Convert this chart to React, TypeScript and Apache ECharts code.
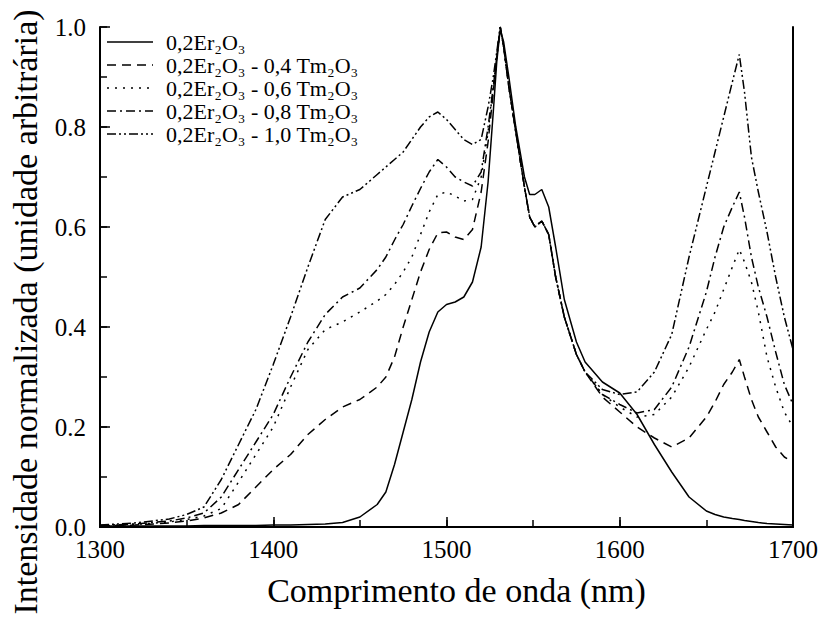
import React, { useEffect, useRef } from "react";
import * as echarts from "echarts";

const wavelengths = [
  1300, 1320, 1340, 1350, 1360, 1370, 1380, 1390, 1400, 1410, 1420, 1430, 1440, 1450, 1460, 1465,
  1470, 1475, 1480, 1485, 1490, 1495, 1500, 1505, 1510, 1515, 1520, 1524, 1527, 1529, 1531, 1533,
  1536, 1540, 1545, 1548, 1551, 1555, 1559, 1563, 1568, 1575, 1580, 1590, 1600, 1610, 1620, 1630,
  1640, 1650, 1655, 1660, 1665, 1669, 1672, 1676, 1680, 1685, 1690, 1695, 1700,
];

const er02 = [
  0.002, 0.002, 0.002, 0.002, 0.003, 0.003, 0.003, 0.003, 0.004, 0.004, 0.005, 0.006, 0.009, 0.02, 0.045, 0.07,
  0.125, 0.19, 0.255, 0.33, 0.39, 0.43, 0.445, 0.45, 0.46, 0.49, 0.56, 0.69, 0.83, 0.93, 0.995, 0.97,
  0.9, 0.8, 0.7, 0.665, 0.665, 0.675, 0.64, 0.56, 0.455, 0.37, 0.33, 0.29, 0.268, 0.225, 0.165, 0.11,
  0.06, 0.032, 0.025, 0.02, 0.017, 0.015, 0.013, 0.011, 0.009, 0.007, 0.006, 0.005, 0.004,
];

const tm04 = [
  0.002, 0.004, 0.008, 0.012, 0.018, 0.028, 0.045, 0.08, 0.115, 0.145, 0.185, 0.215, 0.24, 0.255, 0.28, 0.3,
  0.34, 0.4, 0.455, 0.51, 0.555, 0.588, 0.59, 0.58, 0.575, 0.595, 0.67, 0.77, 0.87, 0.94, 1.0, 0.96,
  0.88, 0.79, 0.68, 0.62, 0.6, 0.612, 0.585, 0.5, 0.42, 0.345, 0.31, 0.26, 0.23, 0.2, 0.178, 0.16,
  0.178, 0.22, 0.25, 0.285, 0.31, 0.335, 0.3, 0.255, 0.22, 0.19, 0.16, 0.14, 0.13,
];

const tm06 = [
  0.002, 0.005, 0.01, 0.015, 0.022, 0.037, 0.09, 0.145, 0.2, 0.28, 0.355, 0.395, 0.41, 0.43, 0.452, 0.465,
  0.485, 0.51, 0.54, 0.585, 0.63, 0.665, 0.67, 0.662, 0.652, 0.655, 0.7, 0.79, 0.88, 0.94, 1.0, 0.96,
  0.88, 0.79, 0.68, 0.62, 0.6, 0.612, 0.585, 0.5, 0.42, 0.345, 0.31, 0.265, 0.24, 0.22, 0.225, 0.26,
  0.32, 0.395, 0.43, 0.475, 0.52, 0.555, 0.53, 0.49, 0.43, 0.34, 0.28, 0.23, 0.2,
];

const tm08 = [
  0.003, 0.006, 0.012, 0.018, 0.028, 0.06, 0.115, 0.17, 0.225, 0.3, 0.37, 0.425, 0.46, 0.478, 0.515, 0.54,
  0.574, 0.605, 0.642, 0.677, 0.71, 0.735, 0.72, 0.7, 0.69, 0.682, 0.71, 0.8, 0.88, 0.94, 1.0, 0.96,
  0.88, 0.79, 0.68, 0.62, 0.6, 0.612, 0.585, 0.5, 0.42, 0.345, 0.31, 0.265, 0.245, 0.228, 0.235, 0.28,
  0.36, 0.47, 0.54, 0.6, 0.64, 0.67, 0.62, 0.54, 0.48, 0.42, 0.35, 0.285, 0.245,
];

const tm10 = [
  0.004, 0.008, 0.016, 0.025, 0.04, 0.095, 0.165, 0.235, 0.325, 0.42, 0.52, 0.615, 0.66, 0.675, 0.705, 0.72,
  0.735, 0.75, 0.775, 0.8, 0.82, 0.83, 0.815, 0.795, 0.775, 0.765, 0.775, 0.84, 0.9, 0.95, 1.0, 0.96,
  0.88, 0.79, 0.68, 0.62, 0.6, 0.612, 0.585, 0.5, 0.42, 0.345, 0.31, 0.275, 0.265, 0.27, 0.31, 0.385,
  0.54, 0.68, 0.75, 0.82, 0.89, 0.945, 0.87, 0.74, 0.67, 0.59, 0.5, 0.42, 0.355,
];

const seriesNames = [
  "0,2Er₂O₃",
  "0,2Er₂O₃ - 0,4 Tm₂O₃",
  "0,2Er₂O₃ - 0,6 Tm₂O₃",
  "0,2Er₂O₃ - 0,8 Tm₂O₃",
  "0,2Er₂O₃ - 1,0 Tm₂O₃",
];

const seriesValues = [er02, tm04, tm06, tm08, tm10];

const dashPatterns: (number[] | null)[] = [
  null,
  [9, 6],
  [2, 6],
  [9, 4, 2, 4],
  [9, 3, 2, 3, 2, 3],
];

const xTitle = "Comprimento de onda (nm)";
const yTitle = "Intensidade normalizada (unidade arbitrária)";

const SERIF = "Liberation Serif";

export default function App() {
  const ref = useRef<HTMLDivElement>(null);

  useEffect(() => {
    if (!ref.current) return;
    const chart = echarts.init(ref.current, null, { renderer: "svg" });

    const series = seriesNames.map((name, i) => ({
      name,
      type: "line",
      xAxisIndex: 0,
      yAxisIndex: 0,
      symbol: "none",
      showSymbol: false,
      data: wavelengths.map((w, j) => [w, seriesValues[i][j]]),
      lineStyle: {
        color: "#000",
        width: 1.5,
        type: dashPatterns[i] ? dashPatterns[i] : "solid",
      },
      itemStyle: { color: "#000" },
    }));

    // Legend drawn as graphic elements (sample line + label)
    const legendTop = 42;
    const legendStep = 23;
    const legendGraphics: any[] = [];
    seriesNames.forEach((name, i) => {
      const y = legendTop + i * legendStep;
      const style: any = { stroke: "#000", lineWidth: 1.5 };
      if (dashPatterns[i]) style.lineDash = dashPatterns[i];
      legendGraphics.push({
        type: "line",
        silent: true,
        shape: { x1: 107, y1: y, x2: 153, y2: y },
        style,
      });
      legendGraphics.push({
        type: "text",
        silent: true,
        x: 166,
        y,
        style: {
          text: name,
          fontSize: 22,
          fontFamily: SERIF,
          fill: "#000",
          verticalAlign: "middle",
          align: "left",
        },
      });
    });

    const hiddenLabel = { show: false };
    const noSplit = { show: false };

    chart.setOption({
      animation: false,
      grid: { left: 97, right: 31, top: 27, bottom: 97 },
      xAxis: [
        {
          type: "value",
          min: 1300,
          max: 1700,
          interval: 100,
          position: "bottom",
          name: xTitle,
          nameLocation: "middle",
          nameGap: 46,
          nameTextStyle: { fontSize: 34, fontFamily: SERIF, color: "#000", padding: [0, 0, 0, 20] },
          axisLine: { show: true, lineStyle: { color: "#000", width: 2 } },
          axisTick: { show: true, inside: true, length: 10, lineStyle: { color: "#000", width: 1.5 } },
          axisLabel: {
            fontSize: 25,
            fontFamily: SERIF,
            color: "#000",
            margin: 10,
            formatter: (v: number) => String(v),
          },
          splitLine: noSplit,
        },
        {
          type: "value",
          min: 1300,
          max: 1700,
          interval: 50,
          position: "bottom",
          axisLine: { show: false },
          axisTick: { show: true, inside: true, length: 7, lineStyle: { color: "#000", width: 1.5 } },
          axisLabel: hiddenLabel,
          splitLine: noSplit,
        },
        {
          type: "value",
          min: 1300,
          max: 1700,
          interval: 100,
          position: "top",
          axisLine: { show: true, lineStyle: { color: "#000", width: 2 } },
          axisTick: { show: false },
          axisLabel: hiddenLabel,
          splitLine: noSplit,
        },
      ],
      yAxis: [
        {
          type: "value",
          min: 0,
          max: 1,
          interval: 0.2,
          position: "left",
          name: yTitle,
          nameLocation: "middle",
          nameGap: 58,
          nameTextStyle: { fontSize: 34, fontFamily: SERIF, color: "#000", padding: [0, 70, 0, 0] },
          axisLine: { show: true, lineStyle: { color: "#000", width: 2 } },
          axisTick: { show: true, inside: true, length: 10, lineStyle: { color: "#000", width: 1.5 } },
          axisLabel: {
            fontSize: 25,
            fontFamily: SERIF,
            color: "#000",
            margin: 14,
            formatter: (v: number) => v.toFixed(1),
          },
          splitLine: noSplit,
        },
        {
          type: "value",
          min: 0,
          max: 1,
          interval: 0.1,
          position: "left",
          axisLine: { show: false },
          axisTick: { show: true, inside: true, length: 7, lineStyle: { color: "#000", width: 1.5 } },
          axisLabel: hiddenLabel,
          splitLine: noSplit,
        },
        {
          type: "value",
          min: 0,
          max: 1,
          interval: 0.2,
          position: "right",
          axisLine: { show: true, lineStyle: { color: "#000", width: 2 } },
          axisTick: { show: false },
          axisLabel: hiddenLabel,
          splitLine: noSplit,
        },
      ],
      graphic: legendGraphics,
      series,
    });

    return () => {
      chart.dispose();
    };
  }, []);

  return (
    <div
      ref={ref}
      style={{ position: "absolute", left: 0, top: 0, width: 824, height: 624 }}
    />
  );
}
